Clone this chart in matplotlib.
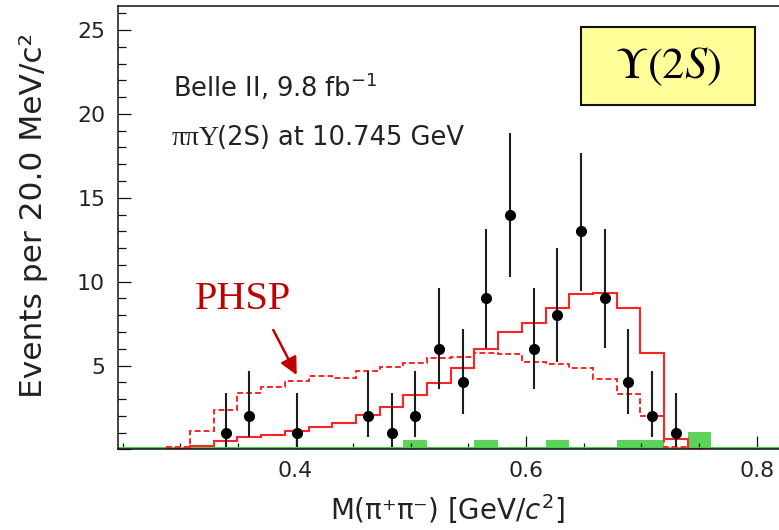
import matplotlib
matplotlib.use("Agg")
import matplotlib.pyplot as plt
import numpy as np
from matplotlib.patches import Rectangle
from matplotlib.ticker import MultipleLocator, FuncFormatter

# M(pi+pi-) histogram, 23 bins (bin index 0..22)
bin_lo = 0.288
bin_w = 0.02055

# signal MC shape (solid red)
signal_mc = [0.0, 0.23, 0.51, 0.76, 0.85, 1.10, 1.36, 1.56, 2.05, 2.55, 3.23, 3.98,
             4.83, 6.00, 6.98, 7.55, 8.46, 9.24, 9.32, 8.44, 5.76, 0.61, 0.0]
# phase space (dashed red)
phsp = [0.17, 1.10, 2.35, 3.38, 3.74, 4.08, 4.38, 4.24, 4.65, 4.89, 5.17, 5.43,
        5.49, 5.76, 5.67, 5.23, 5.07, 4.83, 4.18, 3.30, 1.99, 0.17, 0.0]
# background (green)
background = [0, 0, 0, 0, 0, 0, 0, 0, 0, 0, 0.55, 0, 0, 0.55, 0, 0, 0.55, 0, 0,
              0.55, 0.55, 0, 1.05]

# data points
data_bin = [2, 3, 5, 8, 9, 10, 11, 12, 13, 14, 15, 16, 17, 18, 19, 20, 21]
data_n = [1, 2, 1, 2, 1, 2, 6, 4, 9, 14, 6, 8, 13, 9, 4, 2, 1]
data_err_lo = [0.83, 1.27, 0.83, 1.27, 0.83, 1.27, 2.40, 1.90, 2.98, 3.71, 2.40, 2.81,
               3.57, 2.98, 1.90, 1.27, 0.83]
data_err_hi = [2.35, 2.69, 2.35, 2.69, 2.35, 2.69, 3.60, 3.21, 4.14, 4.88, 3.60, 3.98,
               4.69, 4.14, 3.21, 2.69, 2.35]

edges = bin_lo + bin_w * np.arange(len(signal_mc) + 1)
centers = 0.5 * (edges[:-1] + edges[1:])

plt.rcParams["font.family"] = ["DejaVu Sans"]
plt.rcParams["mathtext.fontset"] = "dejavusans"

fig = plt.figure(figsize=(7.79, 5.30), dpi=100)
ax = fig.add_axes([0.1519, 0.1519, 0.8481, 0.8368])

green = "#5ad55a"
red = "#ff2424"

ax.stairs(background, edges, fill=True, color=green, zorder=1.5)
ax.axhline(0.1, color="#4ccc4c", lw=1.5, zorder=1.6)
ax.stairs(phsp, edges, color=red, lw=1.4, linestyle=(0, (3, 1.6)), baseline=None, zorder=2)
ax.stairs(signal_mc, edges, color=red, lw=1.5, baseline=None, zorder=2.1)

xd = centers[data_bin]
ax.errorbar(xd, data_n, yerr=[data_err_lo, data_err_hi], fmt="o", color="black",
            ecolor="#1e1e1e", ms=7, elinewidth=1.5, capsize=0, zorder=3)

ax.set_xlim(0.2463, 0.8193)
ax.set_ylim(0, 26.43)
ax.spines["right"].set_visible(False)
for s in ("left", "bottom", "top"):
    ax.spines[s].set_linewidth(1.1)
    ax.spines[s].set_color("#111111")

ax.xaxis.set_major_locator(MultipleLocator(0.2))
ax.xaxis.set_minor_locator(MultipleLocator(0.05))
ax.yaxis.set_major_locator(MultipleLocator(5))
ax.yaxis.set_minor_locator(MultipleLocator(1))
ax.yaxis.set_major_formatter(FuncFormatter(lambda v, p: "" if v == 0 else f"{v:g}"))
ax.xaxis.set_major_formatter(FuncFormatter(lambda v, p: f"{v:.1f}"))
ax.tick_params(axis="both", which="both", direction="in", colors="#111111", width=0.9)
ax.tick_params(axis="both", which="major", labelsize=15.8, labelcolor="#222222")
ax.tick_params(axis="x", which="major", length=9.5, pad=8)
ax.tick_params(axis="x", which="minor", length=4.5)
ax.tick_params(axis="y", which="major", length=9.5, pad=9.5)
ax.tick_params(axis="y", which="minor", length=5.5)

ax.set_xlabel(r"M(π⁺π⁻) [GeV/$c^2$]", fontsize=20, color="#222222")
ax.xaxis.set_label_coords(0.499, -0.096)
ax.set_ylabel("Events per 20.0 MeV/c²", fontsize=22.5, color="#222222")
ax.yaxis.set_label_coords(-0.106, 0.527)

fig.text(0.2217, 0.8175, r"Belle II, 9.8 fb$^{-1}$", fontsize=18.5, color="#222222",
         va="baseline", ha="left")
fig.text(0.2204, 0.7264, "ππΥ", family="Liberation Serif", fontsize=20, color="#222222",
         va="baseline", ha="left")
fig.text(0.278, 0.7264, "(2S) at 10.745 GeV", fontsize=18.5, color="#222222",
         va="baseline", ha="left")

# Upsilon(2S) label box
fig.patches.append(Rectangle((580.7 / 779, 1 - 105 / 530), (755 - 580.7) / 779,
                             (105 - 26.7) / 530, transform=fig.transFigure,
                             facecolor="#ffff99", edgecolor="#111111", lw=1.5, zorder=5))
fig.text(667.8 / 779, 1 - 66 / 530, r"$\Upsilon(2S)$", math_fontfamily="stix",
         fontsize=32, ha="center", va="center", color="black", zorder=6)

# PHSP annotation
fig.text(0.2503, 0.4164, "PHSP", family="Liberation Serif", fontsize=29,
         color="#c00000", va="baseline", ha="left")
ax.annotate("", xy=(296.7 / 779, 1 - 375 / 530), xycoords="figure fraction",
            xytext=(273.3 / 779, 1 - 330 / 530), textcoords="figure fraction",
            arrowprops=dict(arrowstyle="-|>", color="#c00000", lw=1.8,
                            mutation_scale=26, shrinkA=0, shrinkB=0))

fig.savefig("out.png", dpi=100)
